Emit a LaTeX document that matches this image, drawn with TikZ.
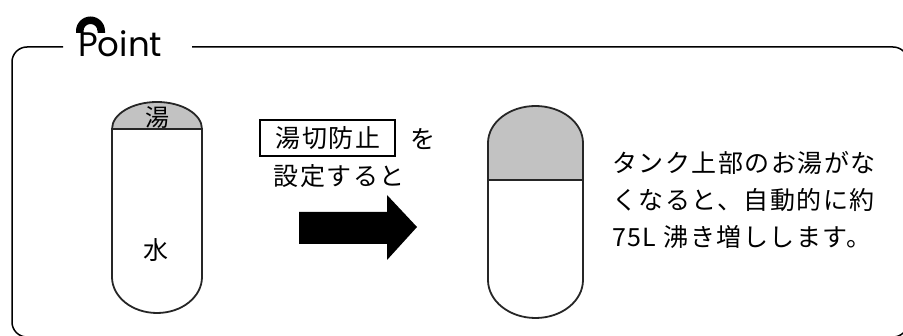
\documentclass[tikz,border=0pt]{standalone}
\usepackage{fontspec}
\newfontfamily\jp{Noto Sans CJK JP}[LetterSpace=6]
\newfontfamily\jpplain{Noto Sans CJK JP}
\newfontfamily\pointfont{Poppins}
\definecolor{capgray}{HTML}{C2C2C2}
\tikzset{
  frameline/.style={line width=1.5pt, black},
  tankline/.style={line width=1.8pt, black!85},
  jptext/.style={font=\jp\fontsize{25}{25}\selectfont, inner sep=0pt},
}
\begin{document}
\begin{tikzpicture}[x=1pt,y=1pt]
\useasboundingbox (0,0) rectangle (903,335);
\clip (0,0) rectangle (903,335);
% frame
\coordinate (fa) at (63,288);
\coordinate (fb) at (192,288);
\draw[frameline] (fa) -- (27,288) arc[start angle=90,end angle=180,radius=15]
  -- (12,13) arc[start angle=180,end angle=270,radius=15]
  -- (893,-2) arc[start angle=270,end angle=360,radius=15]
  -- (908,273) arc[start angle=0,end angle=90,radius=15] -- (fb);
% Point title with icon
\node[anchor=base west, inner sep=0pt, font=\pointfont\fontsize{34}{34}\selectfont] (point) at (78,278) {Point};
\fill[black] (76,302) -- (76,304) arc[start angle=180,end angle=0,radius=14.5]
  -- (105,302) -- (97.5,302) -- (97.5,304) arc[start angle=0,end angle=180,radius=7]
  -- (83.5,302) -- cycle;
% left tank
\fill[capgray] (112,206) arc[start angle=180,end angle=0,x radius=45,y radius=27] -- cycle;
\draw[tankline] (112,206) -- (112,58) arc[start angle=180,end angle=360,x radius=45,y radius=36]
  -- (202,206) arc[start angle=0,end angle=180,x radius=45,y radius=27] -- cycle;
\draw[tankline] (112,206) -- (202,206);
\node[font=\jpplain\fontsize{24}{24}\selectfont, inner sep=0pt] (yu) at (157,218) {湯};
\node[font=\jpplain\fontsize{25}{25}\selectfont, inner sep=0pt] (mizu) at (156,85) {水};
% right tank
\fill[capgray] (488,155) -- (488,192) arc[start angle=180,end angle=0,x radius=47.5,y radius=37] -- (583,155) -- cycle;
\draw[tankline] (488,192) -- (488,55) arc[start angle=180,end angle=360,x radius=47.5,y radius=38]
  -- (583,192) arc[start angle=0,end angle=180,x radius=47.5,y radius=37] -- cycle;
\draw[tankline] (488,155) -- (583,155);
% middle labels
\draw[line width=1.6pt] (260,179) rectangle (395,215);
\node[jptext] (lbl) at (328,197) {湯切防止};
\node[jptext] (wo) at (423,196) {を};
\node[jptext] (set) at (339,159) {設定すると};
% big arrow
\fill[black] (299,91) -- (387,91) -- (387,75) -- (417,108) -- (387,140) -- (387,123) -- (299,123) -- cycle;
% right text
\node[jptext, anchor=west] (l1) at (612,172) {タンク上部のお湯がな};
\node[jptext, anchor=west] (l2) at (612,135) {くなると、自動的に約};
\node[jptext, anchor=west] (l3) at (612,98) {75L 沸き増しします。};
\end{tikzpicture}
\end{document}
